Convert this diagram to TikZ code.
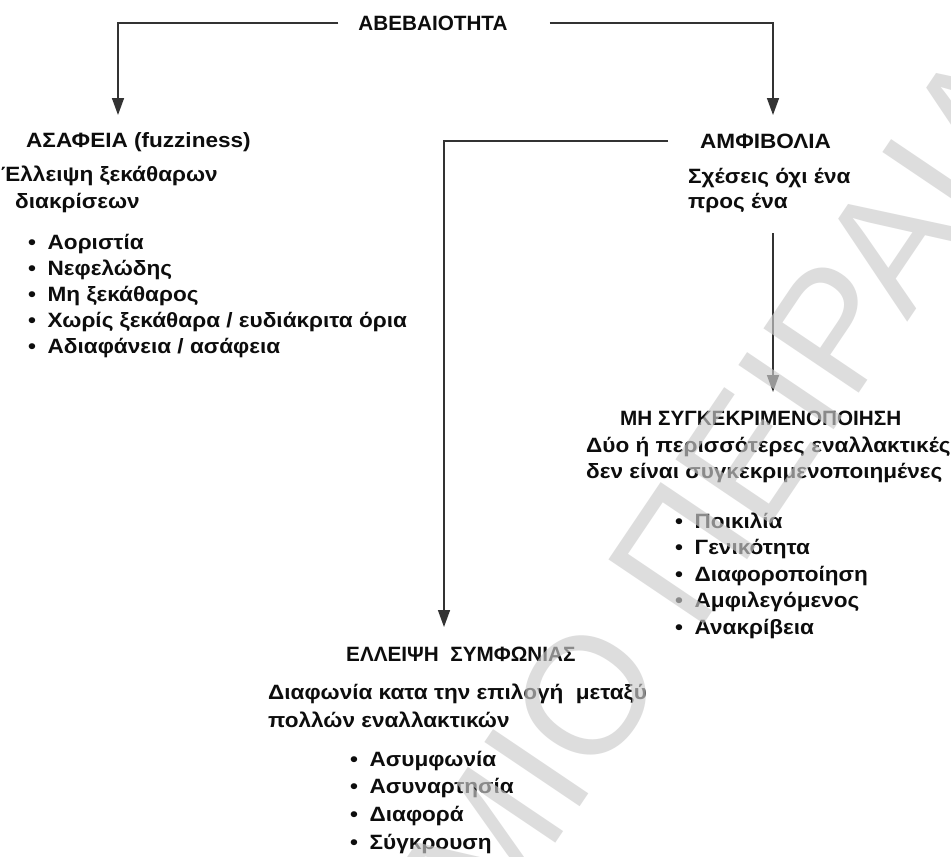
\documentclass[tikz,border=0pt]{standalone}
\usepackage{fontspec}
\setmainfont{Liberation Sans}
\newfontfamily\policelarge{Liberation Sans}[FakeStretch=1.09]
\usetikzlibrary{arrows.meta}
\begin{document}
\begin{tikzpicture}[x=1pt,y=-1pt]
	\tikzstyle{fleche}=[-{Triangle[length=17pt,width=12pt]},line width=1.5pt,color=black!80]
	\tikzstyle{entete}=[anchor=base west,inner sep=0pt,color=black!95,font=\bfseries\fontsize{20.7}{24}\selectfont]
	\tikzstyle{texte}=[entete,font=\policelarge\bfseries\fontsize{20.7}{24}\selectfont]
	\tikzstyle{titre}=[entete,anchor=base]
	\tikzstyle{filigrane}=[inner sep=0pt,rotate=56,color=black!20,text opacity=0.66,font=\fontsize{167}{167}\selectfont]
	\def\Puce{\makebox[19.5pt][l]{\textbullet}}
	\def\InterA{26}
	\def\InterB{26.5}
	\def\InterC{27.7}
	\useasboundingbox (0,0) rectangle (951,857);
	\fill[white] (0,0) rectangle (951,857);
	% racine
	\node[titre] (abeb) at (433,30) {ΑΒΕΒΑΙΟΤΗΤΑ};
	\coordinate (pA) at (118,115);
	\coordinate (pB) at (773,115);
	\coordinate (pC) at (444,627);
	\coordinate (pD) at (773,392);
	% asafeia
	\node[texte] (asaf) at (26,147) {ΑΣΑΦΕΙΑ (fuzziness)};
	\node[texte] (asafa) at (1,181) {Έλλειψη ξεκάθαρων};
	\node[texte] (asafb) at (15,208) {διακρίσεων};
	\node[texte] (asaf1) at (28,{249+(0)*\InterA}) {\Puce Αοριστία};
	\node[texte] (asaf2) at (28,{249+(1)*\InterA}) {\Puce Νεφελώδης};
	\node[texte] (asaf3) at (28,{249+(2)*\InterA}) {\Puce Μη ξεκάθαρος};
	\node[texte] (asaf4) at (28,{249+(3)*\InterA}) {\Puce Χωρίς ξεκάθαρα / ευδιάκριτα όρια};
	\node[texte] (asaf5) at (28,{249+(4)*\InterA}) {\Puce Αδιαφάνεια / ασάφεια};
	% amfivolia
	\node[texte] (amfi) at (700,148) {ΑΜΦΙΒΟΛΙΑ};
	\node[texte] (amfia) at (688,183) {Σχέσεις όχι ένα};
	\node[texte] (amfib) at (688,208) {προς ένα};
	% mi sygkekrimenopoiisi
	\node[entete] (mis) at (620,425) {ΜΗ ΣΥΓΚΕΚΡΙΜΕΝΟΠΟΙΗΣΗ};
	\node[texte] (misa) at (586,452) {Δύο ή περισσότερες εναλλακτικές};
	\node[texte] (misb) at (586,478) {δεν είναι συγκεκριμενοποιημένες};
	\node[texte] (mis1) at (675,{528+(0)*\InterB}) {\Puce Ποικιλία};
	\node[texte] (mis2) at (675,{528+(1)*\InterB}) {\Puce Γενικότητα};
	\node[texte] (mis3) at (675,{528+(2)*\InterB}) {\Puce Διαφοροποίηση};
	\node[texte] (mis4) at (675,{528+(3)*\InterB}) {\Puce Αμφιλεγόμενος};
	\node[texte] (mis5) at (675,{528+(4)*\InterB}) {\Puce Ανακρίβεια};
	% elleipsi symfonias
	\node[entete] (ell) at (346,661) {ΕΛΛΕΙΨΗ\ \ ΣΥΜΦΩΝΙΑΣ};
	\node[texte] (ella) at (268,699) {Διαφωνία κατα την επιλογή\ \ μεταξύ};
	\node[texte] (ellb) at (268,727) {πολλών εναλλακτικών};
	\node[texte] (ell1) at (350,{766+(0)*\InterC}) {\Puce Ασυμφωνία};
	\node[texte] (ell2) at (350,{766+(1)*\InterC}) {\Puce Ασυναρτησία};
	\node[texte] (ell3) at (350,{766+(2)*\InterC}) {\Puce Διαφορά};
	\node[texte] (ell4) at (350,{766+(3)*\InterC}) {\Puce Σύγκρουση};
	% fleches
	\draw[fleche,shorten <=20pt] (abeb.west) -| (pA);
	\draw[fleche,shorten <=42pt] (abeb.east) -| (pB);
	\draw[fleche,shorten <=32pt] (amfi.west) -| (pC);
	\draw[fleche,shorten <=21pt] (amfib.south -| pD) -- (pD);
	% filigrane
	\begin{scope}
		\clip (0,0) rectangle (951,857);
		\node[filigrane] (fil) at (728,485) {ΜΙΟ ΠΕΙΡΑΙΑ};
	\end{scope}
\end{tikzpicture}
\end{document}
